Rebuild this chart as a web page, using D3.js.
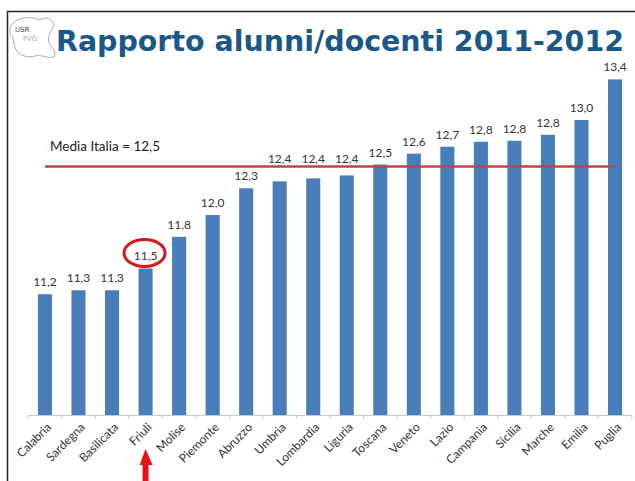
<!DOCTYPE html>
<html><head><meta charset="utf-8">
<script src="https://cdn.jsdelivr.net/npm/d3@7"></script>
<style>body{margin:0;background:#fff}svg{display:block}</style>
</head><body>
<svg id="c" width="635" height="481"></svg>
<script>
const categories = ["Calabria","Sardegna","Basilicata","Friuli","Molise","Piemonte","Abruzzo","Umbria","Lombardia","Liguria","Toscana","Veneto","Lazio","Campania","Sicilia","Marche","Emilia","Puglia"];
// bar heights
const values = [11.22,11.26,11.26,11.48,11.80,12.02,12.29,12.36,12.39,12.42,12.53,12.64,12.71,12.76,12.77,12.83,12.98,13.39];
// value labels as printed on the chart
const valueLabels = ["11,2","11,3","11,3","11,5","11,8","12,0","12,3","12,4","12,4","12,4","12,5","12,6","12,7","12,8","12,8","12,8","13,0","13,4"];
const mediaItalia = 12.51;
const mediaLabel = "Media Italia = 12,5";
const highlighted = "Friuli";
const titleText = "Rapporto alunni/docenti 2011-2012";

const svg = d3.select("#c");
// frame
svg.append("path").attr("d","M7.5,481 V11.5 H635").attr("fill","none").attr("stroke","#222").attr("stroke-width",1.5);

// logo
const logo = svg.append("g");
logo.append("path")
  .attr("d","M12,24 C18,17 30,16 40,20 C46,16 53,19 54,25 C51,31 47,37 49,43 C52,48 57,52 54,57 C47,59 41,54 35,56 C28,58 21,56 17,51 C13,46 15,40 11,35 C9,31 10,27 12,24 Z")
  .attr("fill","none").attr("stroke","#aaa").attr("stroke-width",1);
logo.append("text").attr("x",15).attr("y",32).attr("font-family","DejaVu Sans").attr("font-size",7).attr("fill","#444").text("USR");
logo.append("text").attr("x",23).attr("y",41).attr("font-family","DejaVu Sans").attr("font-size",7).attr("fill","#aaa").text("FVG");

// title
svg.append("text").attr("x",56).attr("y",51)
  .attr("font-family","DejaVu Sans").attr("font-weight","bold").attr("font-size",28)
  .attr("fill","#1a5887").attr("textLength",568).attr("lengthAdjust","spacingAndGlyphs")
  .text(titleText);

const x = d3.scaleBand().domain(categories).range([28.2, 631.8]).paddingInner(0.58).paddingOuter(0.29);
const y = d3.scaleLinear().domain([10, 13.4]).range([415, 78.4]);

// bars
svg.append("g").selectAll("rect").data(categories).join("rect")
  .attr("x", d => x(d)).attr("width", x.bandwidth())
  .attr("y", (d,i) => y(values[i])).attr("height", (d,i) => y(10) - y(values[i]))
  .attr("fill","#4a7ebb");

// axis
const ax = svg.append("g").attr("transform","translate(0,415)")
  .call(d3.axisBottom(x).tickSize(4).tickSizeOuter(0).tickFormat(""));
ax.select(".domain").attr("stroke","#c8c8c8");
ax.selectAll(".tick line").attr("stroke","#c8c8c8")
  .attr("transform", `translate(${-x.step()/2},0)`);
ax.append("line").attr("x1",631.8).attr("x2",631.8).attr("y1",0).attr("y2",4).attr("stroke","#c8c8c8");

// category labels
svg.append("g").selectAll("text").data(categories).join("text")
  .attr("transform", d => `translate(${x(d)+x.bandwidth()/2+7},${428}) rotate(-45)`)
  .attr("text-anchor","end").attr("font-family","Lato, Liberation Sans").attr("font-size",12)
  .attr("fill","#333").text(d => d);

// value labels (moved above the average line when they would collide)
const lineY = y(mediaItalia);
svg.append("g").selectAll("text").data(categories).join("text")
  .attr("x", d => x(d)+x.bandwidth()/2)
  .attr("y", (d,i) => {
    const base = y(values[i]) - 8;
    return (y(values[i]) > lineY && base - 9 < lineY + 2) ? lineY - 4 : base;
  })
  .attr("text-anchor","middle").attr("font-family","Lato, Liberation Sans").attr("font-size",12)
  .attr("fill","#333").text((d,i) => valueLabels[i]);

// media line
svg.append("line")
  .attr("x1", x(categories[0]) + x.bandwidth()/2)
  .attr("x2", x(categories[categories.length-1]) + x.bandwidth()/2)
  .attr("y1", lineY).attr("y2", lineY)
  .attr("stroke","#b94743").attr("stroke-width",2.5);
svg.append("text").attr("x",50).attr("y",150.5)
  .attr("font-family","Lato, Liberation Sans").attr("font-size",13.5).attr("fill","#222")
  .text(mediaLabel);

// highlight circle
const hi = categories.indexOf(highlighted);
const cx = x(highlighted) + x.bandwidth()/2;
svg.append("ellipse").attr("cx", cx - 1).attr("cy", y(values[hi]) - 15.5)
  .attr("rx",20.5).attr("ry",13.5).attr("fill","none").attr("stroke","#d9141b").attr("stroke-width",3);

// arrow
svg.append("path")
  .attr("d", `M${cx-7},465 L${cx-6},465 L${cx},449 L${cx+7},465 L${cx+3},465 L${cx+3},481 L${cx-3},481 L${cx-3},465 Z`)
  .attr("fill","#e8101a");
</script>
</body></html>
